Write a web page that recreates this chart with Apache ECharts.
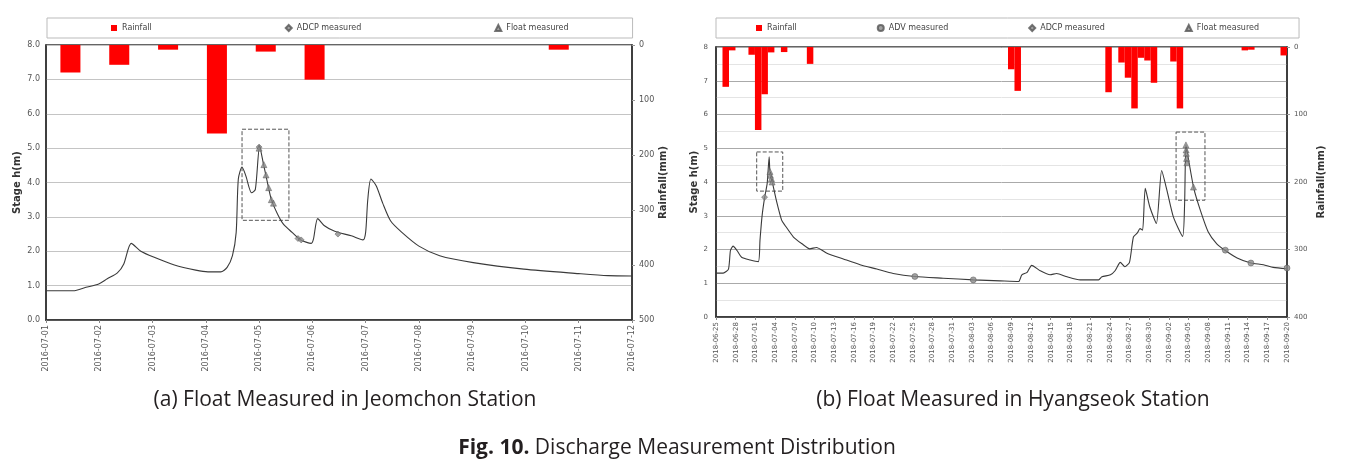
<!DOCTYPE html>
<html><head><meta charset="utf-8">
<script src="https://cdn.jsdelivr.net/npm/echarts@6/dist/echarts.min.js"></script>
<style>html,body{margin:0;padding:0;background:#fff}#c{width:1345px;height:465px}</style>
</head><body><div id="c"></div>
<script>
// ---------- (a) Jeomchon ----------
const startA = Date.UTC(2016, 6, 1);
const spanA = 11;
const rainDatesA = ['2016-07-01','2016-07-02','2016-07-03','2016-07-04','2016-07-05','2016-07-06','2016-07-07','2016-07-08','2016-07-09','2016-07-10','2016-07-11','2016-07-12'];
const rainA = [50, 36, 8.5, 161, 12, 63, 0, 0, 0, 0, 8.5, 0];
const stageDaysA = [0, 0.51, 0.75, 0.99, 1.15, 1.34, 1.46, 1.60, 1.78, 2.02, 2.41, 2.81, 3.04, 3.28, 3.40, 3.50, 3.57, 3.61, 3.68, 3.75, 3.86, 3.93, 4.01, 4.08, 4.15, 4.23, 4.35, 4.46, 4.62, 4.78, 4.98, 5.02, 5.10, 5.22, 5.42, 5.73, 5.95, 6.00, 6.04, 6.10, 6.20, 6.32, 6.47, 6.68, 7.0, 7.39, 8.02, 8.97, 10.0, 10.55, 11.0];
const stageA = [0.85, 0.85, 0.95, 1.05, 1.2, 1.37, 1.63, 2.23, 2.0, 1.83, 1.6, 1.45, 1.4, 1.4, 1.53, 1.87, 2.55, 4.1, 4.45, 4.2, 3.7, 3.8, 5.05, 4.55, 4.05, 3.5, 3.07, 2.78, 2.55, 2.33, 2.23, 2.35, 2.95, 2.75, 2.58, 2.45, 2.33, 2.55, 3.5, 4.1, 3.9, 3.4, 2.88, 2.55, 2.15, 1.87, 1.67, 1.48, 1.35, 1.29, 1.28];
const adcpDaysA = [4.0, 4.73, 4.79, 5.48];
const adcpA = [5.03, 2.37, 2.33, 2.5];
const floatDaysA = [4.0, 4.09, 4.13, 4.18, 4.23, 4.27];
const floatA = [5.0, 4.52, 4.22, 3.85, 3.5, 3.4];
const boxA = [[3.68, 5.55], [4.56, 2.9]];

// ---------- (b) Hyangseok ----------
const startB = Date.UTC(2018, 5, 25);
const spanB = 87;
const rainB = [
  0, 59, 5, 0, 0, 11.5, 123, 70, 8, 0,
  7.5, 0, 0, 0, 25, 0, 0, 0, 0, 0,
  0, 0, 0, 0, 0, 0, 0, 0, 0, 0,
  0, 0, 0, 0, 0, 0, 0, 0, 0, 0,
  0, 0, 0, 0, 0, 33, 65, 0, 0, 0,
  0, 0, 0, 0, 0, 0, 0, 0, 0, 0,
  67, 0, 23, 45.5, 91, 16, 20, 53, 0, 0,
  21.5, 91, 0, 0, 0, 0, 0, 0, 0, 0,
  0, 5, 4, 0, 0, 0, 0, 12.5];
const stageDaysB = [0, 1.1, 1.9, 2.2, 2.6, 3.2, 3.9, 5.2, 6.45, 6.7, 7.0, 7.4, 7.8, 8.1, 8.2, 8.4, 8.6, 9.25, 10.0, 10.5, 11.8, 13.1, 14.3, 15.3, 16.9, 19.4, 21.95, 24.5, 27.0, 30.3, 34.6, 39.2, 43.3, 46.1, 46.6, 47.4, 48.1, 49.4, 50.9, 51.9, 53.5, 55.5, 58.3, 58.8, 60.1, 60.8, 61.6, 62.3, 63.0, 63.6, 64.2, 64.6, 65.0, 65.4, 66.1, 67.1, 67.9, 68.7, 69.7, 71.1, 71.4, 71.6, 72.0, 72.8, 73.8, 75.0, 76.3, 77.6, 79.4, 81.5, 83.4, 84.9, 87];
const stageB = [1.3, 1.3, 1.42, 1.97, 2.1, 1.97, 1.77, 1.69, 1.64, 2.27, 2.96, 3.53, 3.96, 4.75, 4.35, 4.15, 3.98, 3.41, 2.87, 2.72, 2.37, 2.17, 2.02, 2.06, 1.89, 1.72, 1.55, 1.42, 1.29, 1.2, 1.15, 1.1, 1.07, 1.05, 1.25, 1.32, 1.53, 1.37, 1.25, 1.29, 1.19, 1.1, 1.1, 1.19, 1.25, 1.37, 1.62, 1.49, 1.62, 2.37, 2.49, 2.62, 2.57, 3.81, 3.26, 2.77, 4.34, 3.76, 2.96, 2.39, 3.36, 5.1, 4.66, 3.81, 3.16, 2.52, 2.17, 1.97, 1.75, 1.6, 1.55, 1.47, 1.43];
const advDaysB = [30.3, 39.2, 77.6, 81.5, 87];
const advB = [1.2, 1.1, 1.98, 1.6, 1.45];
const adcpDaysB = [7.4];
const adcpB = [3.55];
const floatDaysB = [8.22, 8.3, 8.45, 8.55, 71.6, 71.63, 71.66, 71.7, 71.75, 72.75];
const floatB = [4.31, 4.2, 4.1, 4.0, 5.1, 4.95, 4.85, 4.7, 4.57, 3.85];
const boxB1 = [[6.2, 4.89], [10.17, 3.73]];
const boxB2 = [[70.1, 5.48], [74.5, 3.46]];

const DAY = 86400000;
const fmtDate = (start) => (v) => new Date(start + Math.round(v * DAY)).toISOString().slice(0, 10);
const zip = (xs, ys) => xs.map((x, i) => [x, ys[i]]);
const rainDatesB = rainB.map((_, i) => fmtDate(startB)(i));

const FONT = 'DejaVu Sans';
const CAP = 'Open Sans';
const labelStyle = { color: '#555', fontSize: 8, fontFamily: FONT };
const nameStyle = { color: '#333', fontSize: 10, fontWeight: 'bold', fontFamily: FONT };
const boxStyle = { color: 'rgba(0,0,0,0)', borderColor: '#555', borderWidth: 1, borderType: 'dashed' };
const markerStyle = { color: '#8a8a8a', borderColor: '#555', borderWidth: 0.6 };

const chart = echarts.init(document.getElementById('c'), null, { renderer: 'canvas' });
chart.setOption({
  animation: false,
  textStyle: { fontFamily: FONT },
  title: [
    { text: '(a) Float Measured in Jeomchon Station', left: 340, top: 385, textAlign: 'center',
      textStyle: { fontSize: 21, fontWeight: 'normal', color: '#231f20', fontFamily: CAP } },
    { text: '(b) Float Measured in Hyangseok Station', left: 1008, top: 385, textAlign: 'center',
      textStyle: { fontSize: 21, fontWeight: 'normal', color: '#231f20', fontFamily: CAP } },
    { text: '{b|Fig. 10.} Discharge Measurement Distribution', left: 672, top: 433, textAlign: 'center',
      textStyle: { fontSize: 21, fontWeight: 'normal', color: '#231f20', fontFamily: CAP,
        rich: { b: { fontSize: 21, fontWeight: 'bold', color: '#231f20', fontFamily: CAP } } } }
  ],
  legend: [
    { left: 47, top: 18, padding: [6, 64, 6, 64], itemGap: 133, itemWidth: 6, itemHeight: 6,
      borderColor: '#bbb', borderWidth: 1, textStyle: { color: '#444', fontSize: 8, fontFamily: FONT },
      data: [{ name: 'Rainfall', icon: 'rect' }, { name: 'ADCP measured', icon: 'diamond' }, { name: 'Float measured', icon: 'triangle' }] },
    { left: 716, top: 18, padding: [6, 40, 6, 40], itemGap: 80, itemWidth: 6, itemHeight: 6,
      borderColor: '#bbb', borderWidth: 1, textStyle: { color: '#444', fontSize: 8, fontFamily: FONT },
      data: [{ name: 'Rainfall', icon: 'rect' }, { name: 'ADV measured', icon: 'circle' }, { name: 'ADCP measured', icon: 'diamond' }, { name: 'Float measured', icon: 'triangle' }] }
  ],
  grid: [
    { left: 46, right: 713, top: 45, bottom: 145, show: true, borderColor: '#333', borderWidth: 1.5 },
    { left: 716, right: 58, top: 47, bottom: 148, show: true, borderColor: '#333', borderWidth: 1.5 }
  ],
  xAxis: [
    { type: 'value', gridIndex: 0, min: 0, max: spanA, interval: 1,
      axisLine: { lineStyle: { color: '#333', width: 1.5 } }, axisTick: { show: true, length: 3, lineStyle: { color: '#888' } },
      splitLine: { show: false },
      axisLabel: { rotate: 90, margin: 5, formatter: fmtDate(startA), ...labelStyle } },
    { type: 'category', gridIndex: 0, data: rainDatesA, show: false },
    { type: 'value', gridIndex: 1, min: 0, max: spanB, interval: 3,
      axisLine: { lineStyle: { color: '#333', width: 1.5 } }, axisTick: { show: true, length: 3, lineStyle: { color: '#888' } },
      splitLine: { show: false },
      axisLabel: { rotate: 90, margin: 5, formatter: fmtDate(startB), ...labelStyle, fontSize: 7 } },
    { type: 'category', gridIndex: 1, data: rainDatesB, show: false }
  ],
  yAxis: [
    { type: 'value', gridIndex: 0, min: 0, max: 8, interval: 1, position: 'left',
      name: 'Stage h(m)', nameLocation: 'middle', nameGap: 24, nameTextStyle: nameStyle,
      axisLine: { show: true, lineStyle: { color: '#333', width: 1.5 } }, axisTick: { show: false },
      splitLine: { lineStyle: { color: '#c4c4c4', width: 1 } },
      axisLabel: { formatter: (v) => v.toFixed(1), margin: 6, ...labelStyle } },
    { type: 'value', gridIndex: 0, min: 0, max: 500, interval: 100, inverse: true, position: 'right',
      name: 'Rainfall(mm)', nameLocation: 'middle', nameGap: 26, nameTextStyle: nameStyle,
      axisLine: { show: true, lineStyle: { color: '#333', width: 1.5 } },
      axisTick: { show: true, length: 3, lineStyle: { color: '#999' } },
      splitLine: { show: false }, axisLabel: { margin: 7, ...labelStyle } },
    { type: 'value', gridIndex: 1, min: 0, max: 8, interval: 1, position: 'left',
      name: 'Stage h(m)', nameLocation: 'middle', nameGap: 14, nameTextStyle: nameStyle,
      axisLine: { show: true, lineStyle: { color: '#333', width: 1.5 } }, axisTick: { show: false },
      splitLine: { lineStyle: { color: '#aaa', width: 1 } },
      minorTick: { show: false, splitNumber: 2 },
      minorSplitLine: { show: true, lineStyle: { color: '#e4e4e4', width: 1 } },
      axisLabel: { margin: 8, ...labelStyle, fontSize: 7 } },
    { type: 'value', gridIndex: 1, min: 0, max: 400, interval: 100, inverse: true, position: 'right',
      name: 'Rainfall(mm)', nameLocation: 'middle', nameGap: 29, nameTextStyle: nameStyle,
      axisLine: { show: true, lineStyle: { color: '#333', width: 1.5 } },
      axisTick: { show: true, length: 3, lineStyle: { color: '#999' } },
      splitLine: { show: false }, axisLabel: { margin: 7, ...labelStyle, fontSize: 7 } }
  ],
  series: [
    { name: 'Rainfall', type: 'bar', xAxisIndex: 1, yAxisIndex: 1, data: rainA, barWidth: '41%',
      itemStyle: { color: '#ff0000' }, silent: true, z: 1 },
    { name: 'StageA', type: 'line', xAxisIndex: 0, yAxisIndex: 0, data: zip(stageDaysA, stageA),
      showSymbol: false, smooth: 0.25, lineStyle: { color: '#3a3a3a', width: 1.1 }, silent: true, z: 2,
      markArea: { silent: true, itemStyle: boxStyle, data: [[{ coord: boxA[0] }, { coord: boxA[1] }]] } },
    { name: 'ADCP measured', type: 'scatter', xAxisIndex: 0, yAxisIndex: 0, data: zip(adcpDaysA, adcpA),
      symbol: 'diamond', symbolSize: 6, itemStyle: markerStyle, z: 3 },
    { name: 'Float measured', type: 'scatter', xAxisIndex: 0, yAxisIndex: 0, data: zip(floatDaysA, floatA),
      symbol: 'triangle', symbolSize: 6, itemStyle: markerStyle, z: 3 },

    { name: 'Rainfall', type: 'bar', xAxisIndex: 3, yAxisIndex: 3, data: rainB, barWidth: '100%',
      itemStyle: { color: '#ff0000' }, silent: true, z: 1 },
    { name: 'StageB', type: 'line', xAxisIndex: 2, yAxisIndex: 2, data: zip(stageDaysB, stageB),
      showSymbol: false, smooth: 0.2, lineStyle: { color: '#3a3a3a', width: 1.1 }, silent: true, z: 2,
      markArea: { silent: true, itemStyle: boxStyle,
        data: [[{ coord: boxB1[0] }, { coord: boxB1[1] }], [{ coord: boxB2[0] }, { coord: boxB2[1] }]] } },
    { name: 'ADV measured', type: 'scatter', xAxisIndex: 2, yAxisIndex: 2, data: zip(advDaysB, advB),
      symbol: 'circle', symbolSize: 6, itemStyle: markerStyle, z: 3 },
    { name: 'ADCP measured', type: 'scatter', xAxisIndex: 2, yAxisIndex: 2, data: zip(adcpDaysB, adcpB),
      symbol: 'diamond', symbolSize: 6, itemStyle: markerStyle, z: 3 },
    { name: 'Float measured', type: 'scatter', xAxisIndex: 2, yAxisIndex: 2, data: zip(floatDaysB, floatB),
      symbol: 'triangle', symbolSize: 6, itemStyle: markerStyle, z: 3 }
  ]
});
</script>
</body></html>
